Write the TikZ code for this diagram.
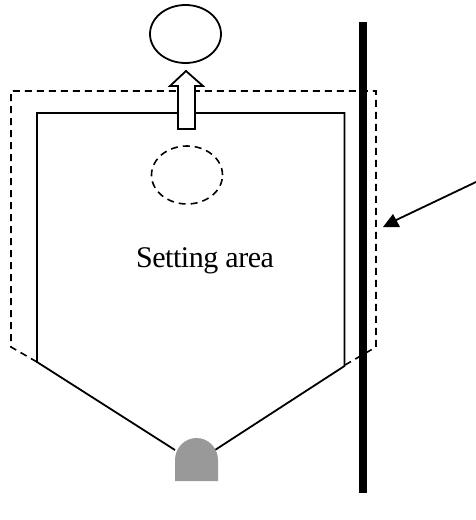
\documentclass[tikz,border=0pt]{standalone}
\usepackage{fontspec}
\setmainfont{Liberation Serif}
\usetikzlibrary{shapes.geometric,arrows.meta}
\begin{document}
\begin{tikzpicture}[x=1pt,y=-1pt,
  wall/.style={line width=1.8pt,black},
  zone/.style={line width=1.6pt,black,dash pattern=on 7pt off 5pt},
  lamp/.style={fill=black!40,draw=none},
  disc/.style={ellipse,minimum width=71pt,minimum height=58pt,inner sep=0pt}]
\useasboundingbox (0,0) rectangle (476,520);
% dashed outline
\draw[zone] (37,362) -- (11,347) -- (11,91) -- (376,91) -- (376,347) -- (345,365);
% solid outline
\draw[wall] (175,450) -- (37,362) -- (37,113) -- (344.5,113) -- (344.5,366) -- (215,450);
% rod
\coordinate (rodtop) at (362.5,22);
\coordinate (rodbot) at (362.5,493);
\draw[line width=8pt] (rodtop) -- (rodbot);
% ellipses
\node[disc,draw,line width=1.8pt] (upper) at (185.5,34) {};
\node[disc,draw,zone] (lower) at (187,175) {};
% hollow arrow
\draw[wall,fill=white,line join=miter] (178,129) -- (178,86) -- (170,86) -- (186,71) -- (203,86) -- (195,86) -- (195,129) -- cycle;
% lamp
\fill[lamp] (175,481) -- (175,460) arc[start angle=180,end angle=360,x radius=21.5,y radius=22] -- (218,481) -- cycle;
% label
\node[inner sep=0pt,anchor=base,font=\fontsize{30}{33}\selectfont\addfontfeatures{LetterSpace=-1.5}] (label) at (205,267) {Setting area};
% pointer
\coordinate (pstart) at (476,182);
\coordinate (ptip) at (383,227);
\draw[line width=1.8pt] (pstart) -- (392,222);
\fill (ptip) -- (400,227) -- (393,214) -- cycle;
\end{tikzpicture}
\end{document}
